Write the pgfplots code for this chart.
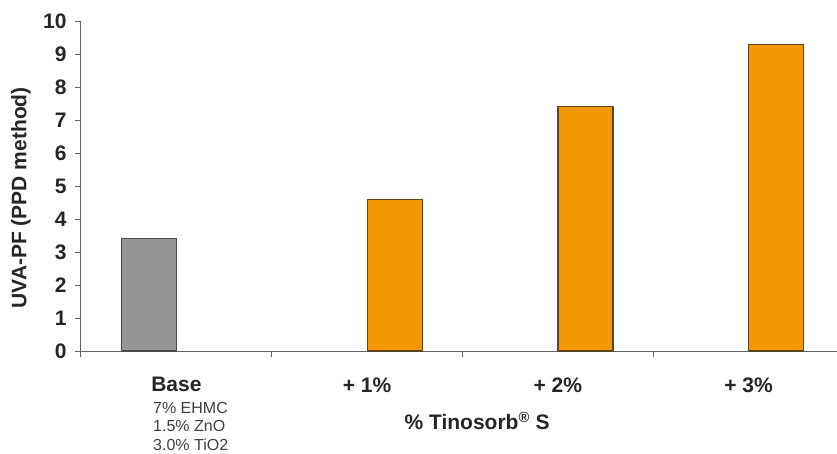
\documentclass[border=0pt]{standalone}
\usepackage{pgfplots}
\pgfplotsset{compat=1.18}
\usepackage{fontspec}
\setmainfont{Liberation Sans}
\definecolor{barorange}{RGB}{243,152,0}
\definecolor{bargray}{RGB}{150,150,150}
\definecolor{axgray}{RGB}{100,100,100}
\definecolor{edgeor}{RGB}{95,70,25}
\definecolor{edgegr}{RGB}{75,75,75}
\begin{document}
\begin{tikzpicture}
\begin{axis}[
  name=ax,
  scale only axis,
  width=756pt, height=330pt,
  xmin=-0.5, xmax=3.464,
  ymin=0, ymax=10,
  axis x line=bottom, axis y line=left,
  axis line style={draw=axgray, line width=1pt, -},
  every tick/.style={draw=axgray, line width=1pt},
  tick align=outside,
  major tick length=6pt,
  ytick={0,1,...,10},
  xtick={-0.5,0.5,1.5,2.5},
  xticklabels={},
  extra x ticks={0,1,2,3},
  extra x tick labels={\textbf{Base},\textbf{+ 1\%},\textbf{+ 2\%},\textbf{+ 3\%}},
  extra x tick style={major tick length=0pt, tick label style={yshift=-23pt}},
  ticklabel style={font=\fontsize{21}{24}\selectfont\bfseries, text=black!85},
  yticklabel style={xshift=-5pt},
  /pgf/number format/assume math mode=true,
  ybar, bar width=55pt, bar shift=0pt,
  clip=false,
]
\addplot[fill=bargray, draw=edgegr, line width=1.2pt] coordinates {(-0.145,3.4)};
\addplot[fill=barorange, draw=edgeor, line width=1.2pt] coordinates {(1.145,4.6) (2.145,7.4) (3.145,9.3)};
\node[anchor=north west, inner sep=0pt, align=left, text=black!75,
      font=\fontsize{16}{18.5}\selectfont] at ([yshift=-51pt]axis cs:-0.1225,0)
      {7\% EHMC\\1.5\% ZnO\\3.0\% TiO2};
\node[anchor=center, inner sep=0pt, text=black!85,
      font=\fontsize{21}{24}\selectfont\bfseries] at ([yshift=-70pt]axis cs:1.577,0)
      {\% Tinosorb\textsuperscript{\textregistered} S};
\node[anchor=center, rotate=90, inner sep=0pt, text=black!85,
      font=\fontsize{21}{24}\selectfont\bfseries] at ([xshift=-60pt]rel axis cs:0,0.464)
      {UVA-PF (PPD method)};
\end{axis}
\pgfresetboundingbox
\path ([xshift=-81pt,yshift=-102pt]ax.south west) rectangle ([yshift=21pt]ax.north east);
\end{tikzpicture}
\end{document}
